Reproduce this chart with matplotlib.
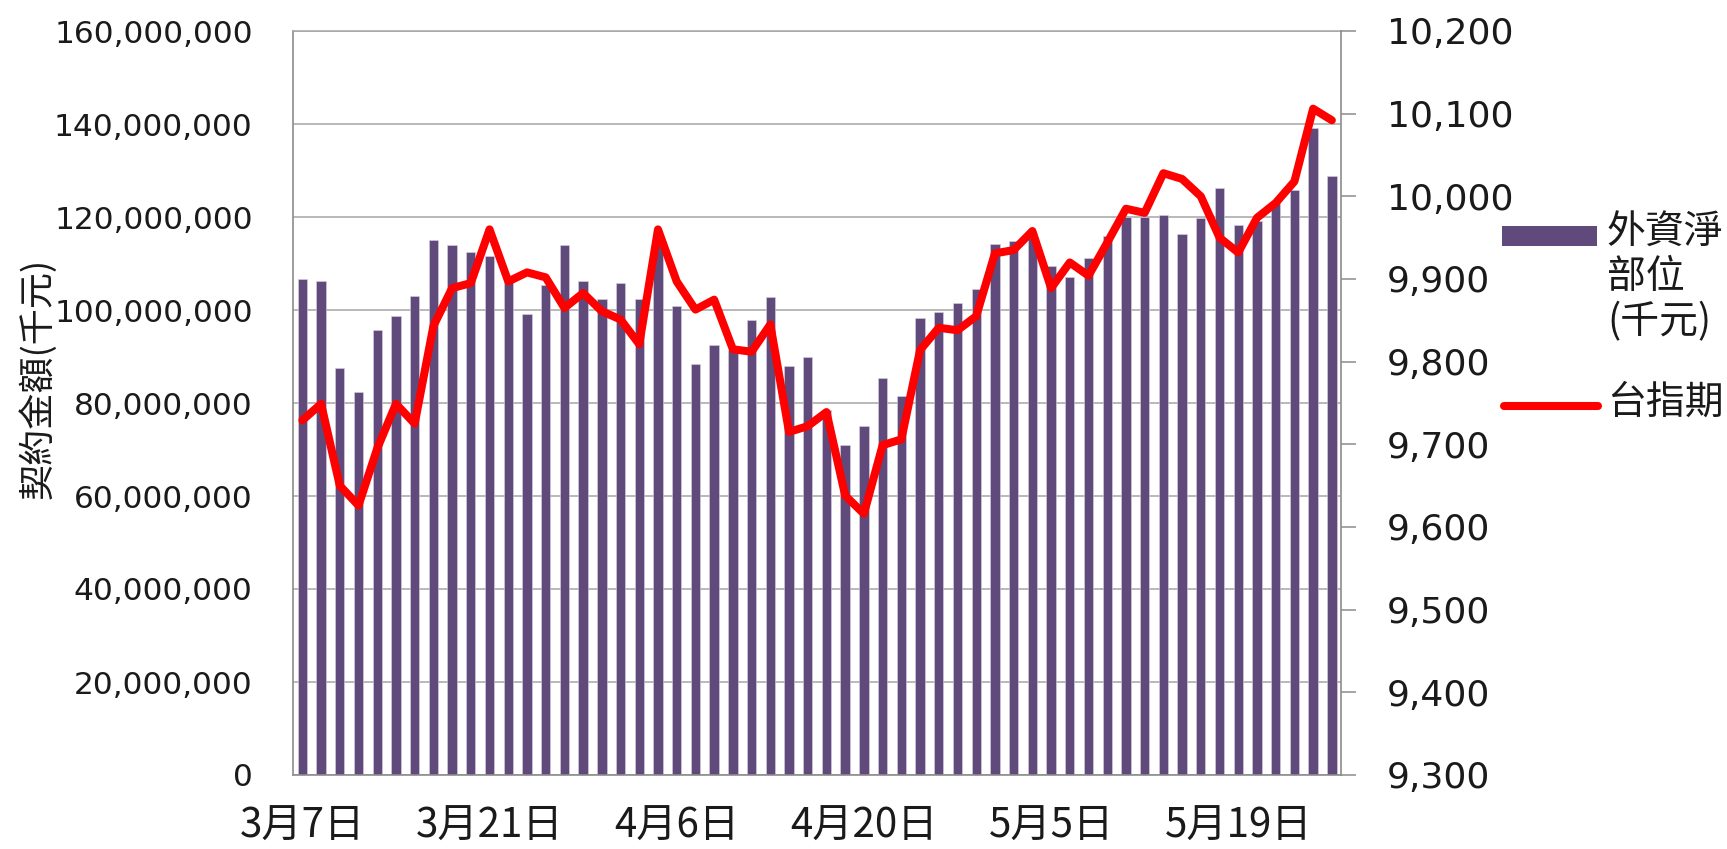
import matplotlib
matplotlib.use('Agg')
import matplotlib.pyplot as plt
from matplotlib.ticker import FuncFormatter, MultipleLocator
from matplotlib.patches import Rectangle
from matplotlib.lines import Line2D

# ---------------- data ----------------
dates = ['3/7', '3/8', '3/9', '3/10', '3/13', '3/14', '3/15', '3/16', '3/17', '3/20',
         '3/21', '3/22', '3/23', '3/24', '3/27', '3/28', '3/29', '3/30', '3/31', '4/5',
         '4/6', '4/7', '4/10', '4/11', '4/12', '4/13', '4/14', '4/17', '4/18', '4/19',
         '4/20', '4/21', '4/24', '4/25', '4/26', '4/27', '4/28', '5/2', '5/3', '5/4',
         '5/5', '5/8', '5/9', '5/10', '5/11', '5/12', '5/15', '5/16', '5/17', '5/18',
         '5/19', '5/22', '5/23', '5/24', '5/25', '5/26']

# 外資淨部位 (千元), in millions of 千元
foreign_net_m = [106.7, 106.2, 87.6, 82.3, 95.6, 98.7, 103.1, 115.1, 113.9, 112.4,
                 111.6, 106.0, 99.1, 105.4, 113.9, 106.2, 102.3, 105.9, 102.3, 114.0,
                 100.9, 88.4, 92.4, 91.4, 97.9, 102.7, 88.0, 89.8, 78.5, 71.0,
                 75.1, 85.4, 81.4, 98.2, 99.6, 101.4, 104.6, 114.3, 114.8, 115.5,
                 109.4, 107.1, 111.1, 116.0, 120.0, 120.0, 120.5, 116.4, 119.8, 126.2,
                 118.2, 119.1, 123.0, 125.9, 139.1, 128.9]

# 台指期
taiex_fut = [9729, 9749, 9650, 9626, 9695, 9749, 9725, 9843, 9889, 9895,
             9960, 9897, 9908, 9902, 9865, 9883, 9861, 9851, 9821, 9960,
             9897, 9863, 9875, 9815, 9812, 9845, 9715, 9722, 9739, 9638,
             9616, 9699, 9706, 9814, 9841, 9838, 9855, 9931, 9935, 9958,
             9889, 9920, 9904, 9944, 9985, 9980, 10028, 10021, 10000, 9950,
             9932, 9974, 9992, 10018, 10106, 10092]

label_every = 10
bar_name = ['外資淨', '部位', '(千元)']
line_name = '台指期'
ylabel_text = '契約金額(千元)'

# ---------------- figure ----------------
W, H = 1727, 849
fig = plt.figure(figsize=(W / 100, H / 100), dpi=100)
fig.patch.set_facecolor('white')

def fx(px):
    return px / W

def fy(py):
    return 1 - py / H

CJK = ['Noto Sans CJK TC', 'DejaVu Sans']
TXT = '#1a1a1a'
GRID = '#A6A6A6'
AXC = '#8C8C8C'
BAR = '#604A7B'
RED = '#FF0000'

L, R, T, B = 293, 1341.2, 31, 775
ax = fig.add_axes([fx(L), fy(B), fx(R) - fx(L), fy(T) - fy(B)])

xs = list(range(len(dates)))
ax.bar(xs, [v * 1e6 for v in foreign_net_m], width=0.5, color=BAR,
       edgecolor='#D9D4E0', linewidth=0.4, zorder=2)
ax.set_xlim(-0.5, len(dates) - 0.5)
ax.set_ylim(0, 160e6)
ax.yaxis.set_major_locator(MultipleLocator(20e6))
ax.yaxis.set_major_formatter(FuncFormatter(lambda v, p: f'{v:,.0f}'))
ax.grid(axis='y', color=GRID, linewidth=1.1, zorder=0)
ax.set_axisbelow(True)

tick_pos = xs[::label_every]
tick_lab = []
for d in dates[::label_every]:
    m, dd = d.split('/')
    tick_lab.append(f'{m}月{dd}日')
ax.set_xticks(tick_pos)
ax.set_xticklabels(tick_lab, family=CJK, fontsize=29, color=TXT)
ax.tick_params(axis='x', length=0, pad=22)
ax.tick_params(axis='y', length=0, pad=29, labelsize=22.5, labelcolor=TXT)
for lab in ax.get_yticklabels():
    lab.set_family('DejaVu Sans')

for s in ['left', 'bottom']:
    ax.spines[s].set_color(AXC)
    ax.spines[s].set_linewidth(1.2)
ax.spines['top'].set_color(GRID)
ax.spines['top'].set_linewidth(1.1)
ax.spines['right'].set_visible(False)

ax2 = ax.twinx()
ax2.plot(xs, taiex_fut, color=RED, linewidth=5.8,
         solid_joinstyle='round', solid_capstyle='round', zorder=3)
ax2.set_ylim(9300, 10200)
ax2.yaxis.set_major_locator(MultipleLocator(100))
ax2.yaxis.set_major_formatter(FuncFormatter(lambda v, p: f'{v:,.0f}'))
ax2.tick_params(axis='y', length=11, width=1.1, color=AXC, pad=22,
                labelsize=26, labelcolor=TXT)
for s in ['left', 'top', 'bottom']:
    ax2.spines[s].set_visible(False)
ax2.spines['right'].set_color(AXC)
ax2.spines['right'].set_linewidth(1.2)

# y label
fig.text(fx(38), fy(378), ylabel_text, rotation=90, ha='center', va='center',
         fontsize=26, family=CJK, color=TXT)

# legend (drawn manually, Excel style)
fig.patches.append(Rectangle((fx(1502), fy(246)), fx(1597) - fx(1502), fy(226) - fy(246),
                             transform=fig.transFigure, facecolor=BAR, edgecolor='none'))
for i, t in enumerate(bar_name):
    fig.text(fx(1607), fy(232 + 45 * i), t, ha='left', va='center',
             fontsize=28, family=CJK, color=TXT)
fig.lines.append(Line2D([fx(1504), fx(1598)], [fy(406), fy(406)], transform=fig.transFigure,
                        color=RED, linewidth=5.8, solid_capstyle='round'))
fig.text(fx(1607), fy(403), line_name, ha='left', va='center',
         fontsize=28, family=CJK, color=TXT)

fig.savefig('out.png', dpi=100)
